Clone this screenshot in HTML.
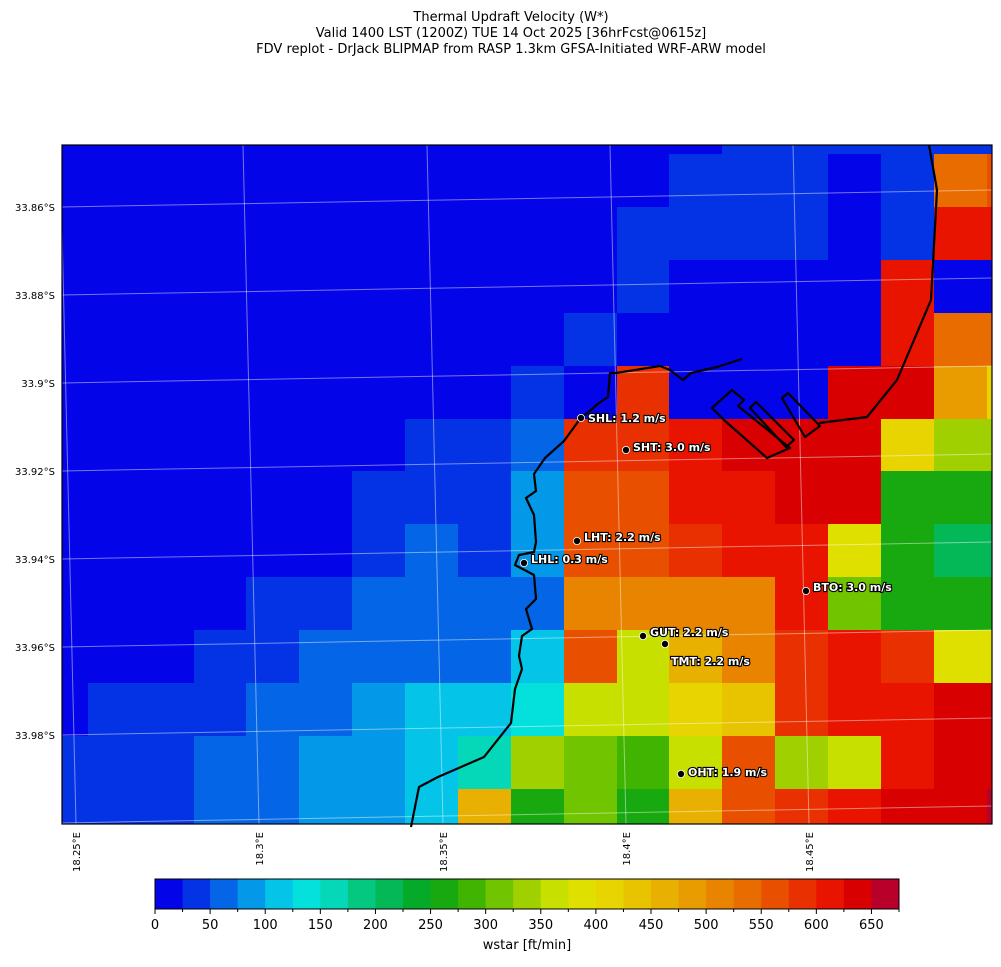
<!DOCTYPE html>
<html><head><meta charset="utf-8">
<style>
body{margin:0;background:#fff;}
svg text{font-family:"DejaVu Sans","Liberation Sans",sans-serif;}
</style></head>
<body>
<svg id="s" width="1001" height="962" xmlns="http://www.w3.org/2000/svg">
<rect width="1001" height="962" fill="#fff"/>
<g font-size="13" text-anchor="middle" fill="#000">
<text x="511" y="21">Thermal Updraft Velocity (W*)</text>
<text x="511" y="37">Valid 1400 LST (1200Z) TUE 14 Oct 2025 [36hrFcst@0615z]</text>
<text x="511" y="53">FDV replot - DrJack BLIPMAP from RASP 1.3km GFSA-Initiated WRF-ARW model</text>
</g>
<g id="grid"></g>
<g id="gl" stroke="#fff" stroke-opacity="0.45" stroke-width="1" fill="none"></g>
<g fill="none" stroke="#000" stroke-width="2.2" stroke-linejoin="round">
<polyline points="929,145 937,190 931,300 897,380 867,417 819,423"/>
<polyline points="742,359 717,367 691,373 683,380 670,370 660,366 616,373 610,373 608,397 599,403 580,419 564,441 545,458 534,474 536,491 526,498 534,515 536,542 534,552 519,555 515,565 534,575 536,599 526,609 532,629 522,636 519,656 522,669 515,689 511,723 484,757 438,777 419,787 411,827"/>
<polygon points="712,408 732,390 744,400 738,406 790,448 767,458 724,420"/>
<polygon points="750,408 756,402 794,440 786,447"/>
<polygon points="782,398 788,393 820,426 805,437"/>
</g>
<rect x="62" y="145" width="930" height="679" fill="none" stroke="#000" stroke-width="1.2"/>
<g font-size="10" text-anchor="end" fill="#000">
<text x="55" y="211">33.86°S</text><text x="55" y="299">33.88°S</text><text x="55" y="387">33.9°S</text>
<text x="55" y="475">33.92°S</text><text x="55" y="563">33.94°S</text><text x="55" y="651">33.96°S</text><text x="55" y="739">33.98°S</text>
</g>
<g font-size="10" fill="#000" text-anchor="end">
<text transform="translate(80,832) rotate(-90)">18.25°E</text>
<text transform="translate(263,832) rotate(-90)">18.3°E</text>
<text transform="translate(447,832) rotate(-90)">18.35°E</text>
<text transform="translate(630,832) rotate(-90)">18.4°E</text>
<text transform="translate(813,832) rotate(-90)">18.45°E</text>
</g>
<g id="st" font-size="11" font-weight="bold"></g>
<g id="cb"></g>
<text x="527" y="949" font-size="13" text-anchor="middle">wstar [ft/min]</text>
</svg>
<script>
var C=["#0404e8","#0433e6","#0466e6","#0498e8","#04c4e8","#04e0dc","#04d8b8","#04c880","#04b858","#04aa28","#18a810","#40b400","#70c400","#a0d000","#c8e000","#e0e000","#e8d400","#e8c400","#e8b000","#e89c00","#e88400","#e86c00","#e85000","#e83000","#e81400","#d80000","#b8002a"];
var xs=[62,88,141,194,246,299,352,405,458,511,564,617,669,722,775,828,881,934,987,992];
var ys=[145,154,207,260,313,366,419,471,524,577,630,683,736,789,824];
var G=[
[0,0,0,0,0,0,0,0,0,0,0,0,0,1,1,1,1,1,1],
[0,0,0,0,0,0,0,0,0,0,0,0,1,1,1,0,1,21,22],
[0,0,0,0,0,0,0,0,0,0,0,1,1,1,1,0,1,24,24],
[0,0,0,0,0,0,0,0,0,0,0,1,0,0,0,0,24,0,0],
[0,0,0,0,0,0,0,0,0,0,1,0,0,0,0,0,24,21,21],
[0,0,0,0,0,0,0,0,0,1,0,23,0,0,0,25,25,19,16],
[0,0,0,0,0,0,0,1,1,2,23,23,24,25,25,25,16,13,13],
[0,0,0,0,0,0,1,1,1,3,22,22,24,24,25,25,10,10,10],
[0,0,0,0,0,0,1,2,1,3,22,22,23,24,24,15,10,8,8],
[0,0,0,0,1,1,2,2,2,2,20,20,20,20,24,12,10,10,10],
[0,0,0,1,1,2,2,2,2,4,22,14,18,20,23,24,23,15,15],
[0,1,1,1,2,2,3,4,4,5,14,14,16,17,23,24,24,25,25],
[1,1,1,2,2,3,3,4,6,13,12,11,14,22,13,14,24,25,25],
[1,1,1,2,2,3,3,4,18,10,12,10,18,22,23,24,25,25,26]];
var ns="http://www.w3.org/2000/svg";
function el(p,t,a){var e=document.createElementNS(ns,t);for(var k in a)e.setAttribute(k,a[k]);p.appendChild(e);return e;}
var g=document.getElementById("grid");
for(var r=0;r<14;r++)for(var c=0;c<19;c++)el(g,"rect",{x:xs[c],y:ys[r],width:xs[c+1]-xs[c]+0.5,height:ys[r+1]-ys[r]+0.5,fill:C[G[r][c]]});
var gl=document.getElementById("gl");
[207,295,383,471,559,647,735,823].forEach(function(y){el(gl,"line",{x1:62,y1:y,x2:992,y2:y-17});});
[76,259,443,626,809].forEach(function(x){el(gl,"line",{x1:x-16,y1:145,x2:x,y2:824});});
var st=document.getElementById("st");
[["SHL: 1.2 m/s",581,418,7,4],["SHT: 3.0 m/s",626,450,7,1],["LHT: 2.2 m/s",577,541,7,0],["LHL: 0.3 m/s",524,563,7,0],["BTO: 3.0 m/s",806,591,7,0],["GUT: 2.2 m/s",643,636,7,0],["TMT: 2.2 m/s",665,644,6,21],["OHT: 1.9 m/s",681,774,7,2]].forEach(function(d){
el(st,"circle",{cx:d[1],cy:d[2],r:3.6,fill:"#000",stroke:"#fff","stroke-width":0.8});
var t=el(st,"text",{x:d[1]+d[3],y:d[2]+d[4],fill:"#fff",stroke:"#000","stroke-width":2.2,"paint-order":"stroke"});t.textContent=d[0];});
var cb=document.getElementById("cb");var w=744/27;
for(var i=0;i<27;i++)el(cb,"rect",{x:155+i*w,y:879,width:w+0.5,height:30,fill:C[i]});
el(cb,"rect",{x:155,y:879,width:744,height:30,fill:"none",stroke:"#000","stroke-width":1});
for(var i=0;i<=27;i++){var x=155+i*w;el(cb,"line",{x1:x,y1:909,x2:x,y2:(i%2?912:914),stroke:"#000"});
if(i%2==0){var t=el(cb,"text",{x:x,y:929,"font-size":13,"text-anchor":"middle"});t.textContent=String(i*25);}}
</script>
</body></html>
